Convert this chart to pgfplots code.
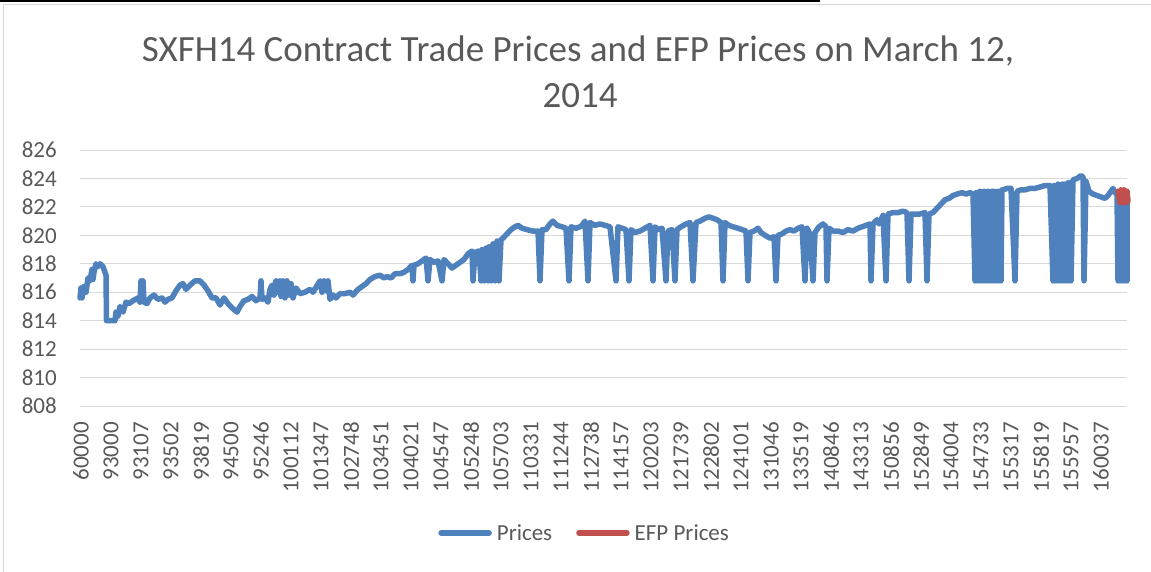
\documentclass[border=0pt]{standalone}
\usepackage{fontspec}
\setmainfont{Carlito}
\usepackage{pgfplots}
\pgfplotsset{compat=1.18}
\definecolor{xlblue}{RGB}{79,129,189}
\definecolor{xlred}{RGB}{192,80,77}
\definecolor{xlgrid}{RGB}{217,217,217}
\definecolor{xltext}{RGB}{89,89,89}

\begin{document}
\begin{tikzpicture}
\useasboundingbox (0pt,0pt) rectangle (1151pt,571pt);
% frame of the chart area and the black rule above it
\draw[xlgrid, line width=1pt] (3pt,-5pt) rectangle (1160pt,566pt);
\draw[black, line width=2pt] (0pt,570pt) -- (820pt,570pt);

% title
\node[anchor=base, text=xltext, inner sep=0pt, font=\fontsize{37}{44}\selectfont]
  at (578pt,509pt) {SXFH14 Contract Trade Prices and EFP Prices on March 12,};
\node[anchor=base, text=xltext, inner sep=0pt, font=\fontsize{37}{44}\selectfont]
  at (580pt,463pt) {2014};

\begin{axis}[
  at={(80pt,165pt)}, anchor=south west,
  scale only axis, width=1047pt, height=256pt,
  xmin=0, xmax=1047, ymin=808, ymax=826,
  clip=false,
  axis line style={draw=none},
  major tick length=0pt,
  ytick={808,810,...,826},
  ymajorgrids, grid style={xlgrid, line width=1pt},
  xtick={1,31,...,1021},
  xticklabels={60000,93000,93107,93502,93819,94500,95246,100112,101347,102748,
    103451,104021,104547,105248,105703,110331,111244,112738,114157,120203,
    121739,122802,124101,131046,133519,140846,143313,150856,152849,154004,
    154733,155317,155819,155957,160037},
  /pgf/number format/assume math mode=true,
  ticklabel style={font=\fontsize{23}{27}\selectfont, text=xltext, inner sep=0pt},
  yticklabel style={anchor=east, xshift=-23pt},
  % rotated frame: local x points up, so a negative xshift moves the label down
  xticklabel style={rotate=90, anchor=east, xshift=-16pt},
  legend columns=-1,
  legend style={at={(0.482,-0.496)}, anchor=center, draw=none, fill=none,
    font=\fontsize{23}{27}\selectfont, text=xltext,
    /tikz/every odd column/.append style={column sep=3pt},
    /tikz/every even column/.append style={column sep=22pt}},
  legend image code/.code={\draw[#1, line cap=round] (0pt,0pt) -- (48pt,0pt);},
  every axis plot/.append style={line width=5.5pt, line join=round, line cap=round},
]
% Prices
\addplot[xlblue] coordinates {
(0,815.6)(1,816.3)(2,815.6)(4,816.4)(6,816.0)(8,817.0)(10,816.8)(12,817.6)
(13,816.9)(14,817.4)(16,818.0)(18,817.8)(20,818.0)(23,817.8)(25,817.4)(26,817.2)
(26.5,814.0)(35,814.0)(36,814.6)(38,814.3)(40,815.0)(43,814.6)(46,815.3)(49,815.2)
(53,815.4)(58,815.6)(60,815.3)(61,816.8)(62,815.4)(63,816.8)(64,815.3)(67,815.2)
(70,815.6)(74,815.8)(78,815.5)(82,815.6)(85,815.3)(88,815.5)(92,815.6)(96,816.1)
(100,816.5)(103,816.6)(106,816.2)(110,816.5)(115,816.8)(120,816.8)(124,816.5)
(128,816.1)(132,815.6)(136,815.6)(140,815.1)(144,815.6)(148,815.2)(152,814.9)
(157,814.6)(160,815.0)(164,815.4)(168,815.5)(172,815.7)(176,815.4)(180,815.6)
(181,816.8)(182,815.5)(185,815.6)(188,815.3)(190,816.2)(192,816.5)(194,815.8)
(196,816.8)(198,816.0)(200,816.8)(201,815.7)(203,816.8)(205,815.6)(207,816.8)
(209,815.8)(211,816.6)(213,815.6)(216,816.3)(220,815.9)(225,816.0)(230,816.2)
(233,816.0)(240,816.8)(242,816.0)(244,816.8)(246,816.1)(248,816.8)(250,815.5)
(253,815.8)(256,815.6)(260,815.9)(265,815.9)(270,816.0)(273,815.8)(278,816.2)
(282,816.4)(286,816.6)(290,816.9)(295,817.1)(300,817.2)(304,817.0)(307,817.1)
(311,817.0)(315,817.3)(320,817.3)(324,817.4)(328,817.6)(332,817.9)(333,816.8)
(334,817.9)(338,818.0)(342,818.2)(346,818.4)(348,816.8)(350,818.3)(354,818.1)
(358,818.2)(362,816.8)(364,818.3)(368,818.0)(372,817.7)(376,817.9)(380,818.1)
(384,818.3)(388,818.7)(392,818.9)(393,816.8)(395,818.8)(399,818.9)(401,816.8)
(402,819.0)(404,816.8)(406,819.1)(408,816.8)(409,819.2)(411,816.8)(413,819.4)
(415,816.8)(417,819.6)(419,816.8)(421,819.7)(423,819.8)(427,820.1)(431,820.4)
(435,820.6)(438,820.7)(442,820.5)(447,820.4)(453,820.3)(458,820.3)(460,816.8)
(462,820.4)(466,820.4)(470,820.8)(473,821.0)(477,820.7)(482,820.6)(486,820.5)
(489,816.8)(491,820.6)(496,820.5)(500,820.6)(502,820.7)(505,821.0)(508,816.8)
(510,820.9)(515,820.7)(520,820.8)(525,820.7)(530,820.6)(536,816.8)(538,820.6)
(542,820.5)(546,820.4)(549,816.8)(551,820.4)(555,820.2)(560,820.3)(565,820.5)
(570,820.7)(573,816.8)(575,820.6)(578,820.4)(582,820.5)(586,816.8)(588,820.3)
(592,820.4)(595,816.8)(597,820.4)(601,820.6)(606,820.8)(610,820.9)(613,816.8)
(616,820.9)(620,821.0)(625,821.2)(629,821.3)(633,821.2)(637,821.1)(641,820.9)
(643,816.8)(645,820.9)(649,820.7)(653,820.6)(658,820.5)(662,820.4)(666,820.3)
(668,816.8)(670,820.2)(674,820.3)(678,820.5)(681,820.2)(685,820.0)(690,819.8)
(694,819.9)(696,816.8)(698,820.0)(702,820.1)(706,820.3)(710,820.4)(714,820.3)
(718,820.5)(722,820.6)(725,816.8)(727,820.5)(730,820.1)(733,816.8)(735,820.2)
(739,820.6)(743,820.8)(746,820.6)(747,816.8)(749,820.5)(753,820.3)(758,820.3)
(763,820.2)(768,820.4)(773,820.3)(778,820.5)(782,820.6)(786,820.7)(790,820.8)
(791,816.8)(793,820.8)(797,821.1)(799,820.8)(803,821.4)(806,816.8)(808,821.5)
(813,821.6)(818,821.6)(823,821.7)(827,821.6)(829,816.8)(831,821.5)(835,821.5)
(840,821.5)(845,821.6)(847,816.8)(849,821.5)(853,821.6)(857,821.9)(861,822.2)
(865,822.5)(869,822.6)(873,822.8)(877,822.9)(882,823.0)(886,822.9)(890,823.0)
(893,822.9)(895,816.8)(896,823.0)(897,816.8)(898,823.0)(899,816.8)(900,823.1)
(901,816.8)(902,823.0)(903,816.8)(904,823.1)(905,816.8)(906,823.0)(907,816.8)
(908,823.1)(909,816.8)(910,823.0)(911,816.8)(912,823.1)(913,816.8)(914,823.1)
(915,816.8)(916,823.0)(917,816.8)(918,823.1)(919,816.8)(920,823.1)(921,816.8)
(922,823.2)(923,823.2)(927,823.3)
(931,823.3)(935,816.8)(937,823.1)(941,823.2)(945,823.2)(950,823.3)(955,823.3)
(960,823.4)(965,823.5)(970,823.5)(973,816.8)(974,823.5)(975,816.8)(976,823.5)
(977,816.8)(978,823.6)(979,816.8)(980,823.5)(981,816.8)(982,823.6)(983,816.8)
(984,823.6)(985,816.8)(986,823.6)(987,816.8)(988,823.7)(989,816.8)(990,823.7)
(991,816.8)(993,823.9)(997,824.0)(1001,824.2)(1003,824.1)(1004,816.8)
(1006,823.8)(1009,823.1)(1013,822.9)(1017,822.8)(1021,822.7)(1025,822.6)(1028,822.8)
(1031,823.1)(1033,823.3)(1035,823.0)(1037,822.9)(1038,816.8)(1039,822.9)
(1040,816.8)(1041,822.9)(1042,816.8)(1043,822.9)(1044,816.8)(1045,822.9)
(1046,816.8)(1047,822.9)(1047,816.8)
};
\addlegendentry{Prices}
% EFP Prices
\addplot[xlred] coordinates {
(1038,823.1)(1040,822.3)(1041,823.2)(1043,822.3)(1044,823.2)(1046,822.3)
(1047,823.1)(1048,822.4)
};
\addlegendentry{EFP Prices}
\end{axis}
\end{tikzpicture}
\end{document}
